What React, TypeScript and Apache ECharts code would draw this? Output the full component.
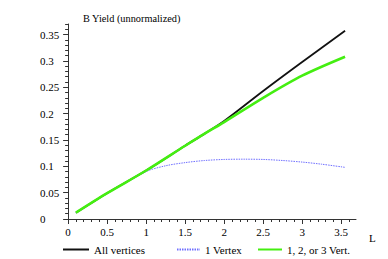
import React, { useEffect, useRef } from "react";
import * as echarts from "echarts";

const allX = [0.1, 0.5, 1.0, 1.5, 1.75, 2.0, 2.5, 3.0, 3.55];
const allY = [0.012, 0.049, 0.092, 0.139, 0.162, 0.186, 0.243, 0.298, 0.357];

const oneX = [0.1, 0.5, 1.0, 1.25, 1.5, 1.75, 2.0, 2.25, 2.5, 2.75, 3.0, 3.25, 3.55];
const oneY = [0.012, 0.049, 0.09, 0.101, 0.107, 0.111, 0.113, 0.1135, 0.113, 0.111, 0.108, 0.104, 0.098];

const anyX = [0.1, 0.5, 1.0, 1.5, 1.75, 2.0, 2.5, 3.0, 3.55];
const anyY = [0.012, 0.049, 0.092, 0.139, 0.162, 0.184, 0.23, 0.272, 0.308];

const xMajor = [0, 0.5, 1, 1.5, 2, 2.5, 3, 3.5];
const yMajor = [0, 0.05, 0.1, 0.15, 0.2, 0.25, 0.3, 0.35];

const seriesNames = ["All vertices", "1 Vertex", "1, 2, or 3 Vert."];
const titleText = "B Yield (unnormalized)";
const xName = "L";

function steps(from: number, to: number, step: number): number[] {
  const out: number[] = [];
  const n = Math.round((to - from) / step);
  for (let i = 0; i <= n; i++) out.push(Math.round((from + i * step) * 1000) / 1000);
  return out;
}

const pair = (xs: number[], ys: number[]) => xs.map((x, i) => [x, ys[i]]);

export default function App() {
  const ref = useRef<HTMLDivElement>(null);
  useEffect(() => {
    if (!ref.current) return;
    const chart = echarts.init(ref.current, null, { renderer: "svg" });
    const font = "'Liberation Serif', 'Times New Roman', serif";
    const axisColor = "#333";
    const xMinor = steps(0, 3.6, 0.1);
    const yMinor = steps(0, 0.37, 0.01);
    const legendBase = {
      orient: "horizontal",
      top: 244,
      padding: 0,
      itemHeight: 10,
      itemStyle: { opacity: 0 },
      textStyle: { fontFamily: font, fontSize: 11, color: "#000" },
    };
    chart.setOption({
      animation: false,
      textStyle: { fontFamily: font },
      title: {
        text: titleText,
        left: 83,
        top: 13,
        padding: 0,
        textStyle: { fontFamily: font, fontSize: 10.3, fontWeight: "normal", color: "#000" },
      },
      legend: [
        { ...legendBase, left: 62, itemWidth: 26, data: [seriesNames[0]] },
        { ...legendBase, left: 176, itemWidth: 23, data: [seriesNames[1]] },
        { ...legendBase, left: 257, itemWidth: 24, data: [seriesNames[2]] },
      ],
      grid: { left: 65, right: 32, top: 24, bottom: 40, outerBoundsMode: "none" },
      xAxis: [
        {
          type: "value",
          min: -0.04,
          max: 3.69,
          splitLine: { show: false },
          axisLine: { lineStyle: { color: axisColor, width: 1 } },
          axisTick: { customValues: xMajor, length: 5, lineStyle: { color: axisColor } },
          axisLabel: {
            customValues: xMajor,
            margin: 7,
            fontFamily: font,
            fontSize: 11,
            color: "#000",
          },
        },
        {
          type: "value",
          min: -0.04,
          max: 3.69,
          gridIndex: 0,
          position: "bottom",
          splitLine: { show: false },
          axisLine: { show: false },
          axisTick: { customValues: xMinor, length: 3, lineStyle: { color: axisColor } },
          axisLabel: { show: false },
        },
      ],
      yAxis: [
        {
          type: "value",
          min: 0,
          max: 0.37,
          splitLine: { show: false },
          axisLine: { lineStyle: { color: axisColor, width: 1 } },
          axisTick: { customValues: yMajor, length: 5, lineStyle: { color: axisColor } },
          axisLabel: {
            customValues: yMajor,
            align: "left",
            margin: 25,
            fontFamily: font,
            fontSize: 11,
            color: "#000",
            formatter: (v: number) => String(v),
          },
        },
        {
          type: "value",
          min: 0,
          max: 0.37,
          gridIndex: 0,
          position: "left",
          splitLine: { show: false },
          axisLine: { show: false },
          axisTick: { customValues: yMinor, length: 3, lineStyle: { color: axisColor } },
          axisLabel: { show: false },
        },
      ],
      graphic: [
        {
          type: "text",
          left: 369,
          top: 232,
          style: { text: xName, fontFamily: font, fontSize: 11, fill: "#000" },
        },
      ],
      series: [
        {
          name: seriesNames[0],
          type: "line",
          data: pair(allX, allY),
          smooth: 0.3,
          showSymbol: false,
          symbol: "none",
          lineStyle: { color: "#111", width: 1.8 },
          itemStyle: { color: "#111" },
          z: 2,
        },
        {
          name: seriesNames[1],
          type: "line",
          data: pair(oneX, oneY),
          smooth: 0.3,
          showSymbol: false,
          symbol: "none",
          lineStyle: { color: "#6f6fff", width: 1, type: [1.5, 1] },
          itemStyle: { color: "#6f6fff" },
          z: 3,
        },
        {
          name: seriesNames[2],
          type: "line",
          data: pair(anyX, anyY),
          smooth: 0.3,
          showSymbol: false,
          symbol: "none",
          lineStyle: { color: "#44ee11", width: 2.6 },
          itemStyle: { color: "#44ee11" },
          z: 4,
        },
      ],
    });
    return () => chart.dispose();
  }, []);
  return <div ref={ref} style={{ width: 388, height: 259, position: "absolute", left: 0, top: 0 }} />;
}
